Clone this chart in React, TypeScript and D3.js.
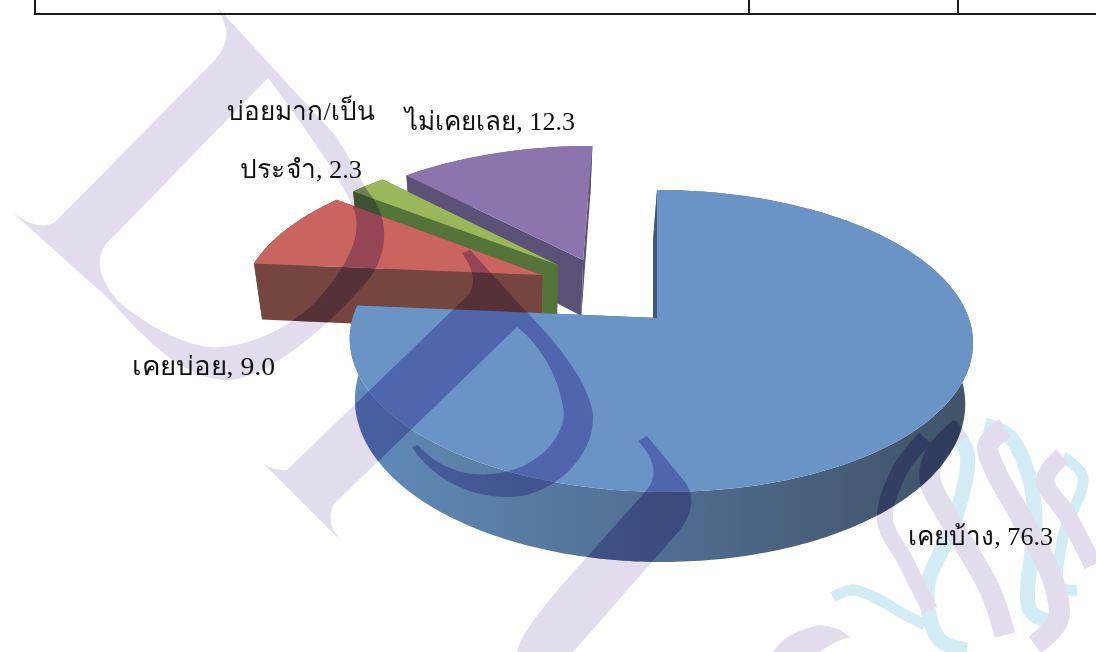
import React from "react";
import * as d3 from "d3";

const categories = ["เคยบ้าง", "เคยบ่อย", "บ่อยมาก/เป็นประจำ", "ไม่เคยเลย"];
const values = [76.3, 9.0, 2.3, 12.3];

const W = 1096, H = 652;
const APEX = { x: 657, y: 318 };
const K = 0.152, A = 147.5, B = 308;
const topCols = ["#6b94c6", "#c9645f", "#9ab85a", "#8c74ad"];
const sideCols = ["#3f5874", "#74463f", "#55743a", "#5c5278"];
const offsets = [[0, 0], [-0.39, 0.305], [-0.34, 0.38], [-0.255, 0.418]];

type P = [number, number];
function project(X: number, Y: number, z = 0): P {
  const d = 1 + K * Y;
  const sx = (B * X) / d;
  const inset = sx < 0 ? 0.03 : 0.012;
  return [
    APEX.x + sx * (1 - inset * z) - 4 * z,
    APEX.y - (A * Y) / d + (59.4 / d) * z,
  ];
}

const pieGen = d3.pie<number>().sort(null).startAngle(0).endAngle(2 * Math.PI);
const arcs = pieGen(values);
const closed = d3.line<P>().curve(d3.curveLinearClosed);

function rim(i: number, z: number): P[] {
  const a = arcs[i];
  const [ox, oy] = offsets[i];
  const n = Math.max(8, Math.round((a.endAngle - a.startAngle) * 60));
  const skew = i === 0 ? 0.012 : 0;
  return d3.range(n + 1).map((k) => {
    const t = a.startAngle + ((a.endAngle - a.startAngle) * k) / n;
    return project(ox + Math.sin(t) + skew * (1 - Math.cos(t)), oy + Math.cos(t), z);
  });
}
function apex(i: number, z: number): P {
  return project(offsets[i][0], offsets[i][1], z);
}
function topFace(i: number) { return closed([apex(i, 0), ...rim(i, 0)]) as string; }
function outerWall(i: number) { return closed([...rim(i, 0), ...rim(i, 1).reverse()]) as string; }
function radial(i: number, end: boolean) {
  const r0 = rim(i, 0), r1 = rim(i, 1);
  const e0 = end ? r0[r0.length - 1] : r0[0];
  const e1 = end ? r1[r1.length - 1] : r1[0];
  return closed([apex(i, 0), e0, e1, apex(i, 1)]) as string;
}

// watermark outlines (background decoration)
const letterD =
  "M218 8 L224 22 Q232 40 215 60 L55 222 Q38 232 13 213 L110 300 C150 345 185 378 225 380 C270 382 345 310 372 275 C390 245 388 215 367 190 C355 170 345 148 333 133 Z " +
  "M268 78 L105 245 Q90 268 117 300 C145 325 190 350 220 347 C260 345 300 320 320 297 C345 268 365 235 353 207 C345 185 300 120 268 78 Z";
const letterP =
  "M462 253 L470 250 L520 305 C560 345 590 385 593 415 C595 455 555 497 507 497 C465 497 430 475 412 447 L418 445 C440 470 470 478 500 473 C545 465 568 430 563 407 C558 375 540 345 517 327 L333 505 Q325 525 343 543 L257 457 Q270 472 287 470 L460 303 Q485 285 462 253 Z";
const letterJ =
  "M638 441 L647 436 L685 482 Q700 503 680 530 L573 652 L517 652 Q520 630 587 557 L645 492 Q665 470 638 441 Z";
const swoosh = "M773 652 Q785 632 820 625 Q838 626 850 637 Q832 642 820 652 Z";

const purpleRibbons: { pts: P[]; w: number }[] = [
  { pts: [[925, 438], [900, 470], [885, 520], [905, 560], [930, 610]], w: 16 },
  { pts: [[960, 428], [935, 455], [930, 480], [950, 520], [990, 590], [1005, 635]], w: 21 },
  { pts: [[1005, 428], [988, 445], [995, 470], [1020, 515], [1053, 580], [1058, 620], [1035, 645]], w: 21 },
  { pts: [[1062, 456], [1045, 480], [1067, 515], [1093, 565]], w: 18 },
];
const cyanRibbons: { pts: P[]; w: number }[] = [
  { pts: [[833, 597], [853, 590], [880, 600], [900, 612], [925, 625]], w: 11 },
  { pts: [[950, 425], [967, 453], [955, 520], [927, 590], [940, 640], [967, 650]], w: 15 },
  { pts: [[985, 425], [1010, 437], [1030, 480], [1035, 520], [1030, 610], [1050, 622]], w: 15 },
  { pts: [[1063, 457], [1083, 477], [1063, 537], [1060, 587], [1077, 590]], w: 11 },
];
const ribbon = d3.line<P>().curve(d3.curveCatmullRom.alpha(0.5));

const labels = [
  { text: "ไม่เคยเลย, 12.3", x: 405, y: 130, w: 170 },
  { text: "บ่อยมาก/เป็น", x: 227, y: 120, w: 148 },
  { text: "ประจำ, 2.3", x: 240, y: 178, w: 122 },
  { text: "เคยบ่อย, 9.0", x: 132, y: 375, w: 143 },
  { text: "เคยบ้าง, 76.3", x: 908, y: 545, w: 145 },
];

function Watermark({ purple, cyan }: { purple: string; cyan: string }) {
  return (
    <g>
      {cyanRibbons.map((r, i) => (
        <path key={i} d={ribbon(r.pts) as string} fill="none" stroke={cyan} strokeWidth={r.w} />
      ))}
      <path d={letterD} fill={purple} fillRule="evenodd" />
      <path d={letterP} fill={purple} />
      <path d={letterJ} fill={purple} />
      <path d={swoosh} fill={purple} />
      {purpleRibbons.map((r, i) => (
        <path key={i} d={ribbon(r.pts) as string} fill="none" stroke={purple} strokeWidth={r.w} />
      ))}
    </g>
  );
}

export default function App() {
  const order = [3, 2, 1, 0];
  return (
    <svg width={W} height={H} viewBox={`0 0 ${W} ${H}`} style={{ position: "absolute", left: 0, top: 0, background: "#fff" }}>
      <defs>
        <linearGradient id="mainWall" gradientUnits="userSpaceOnUse" x1={350} y1={0} x2={975} y2={0}>
          <stop offset="0" stopColor="#5f8cbc" />
          <stop offset="0.2" stopColor="#5b80a8" />
          <stop offset="0.5" stopColor="#506e92" />
          <stop offset="0.8" stopColor="#465c76" />
          <stop offset="1" stopColor="#3f5468" />
        </linearGradient>
        <clipPath id="pieClip">
          {order.map((i) => (
            <React.Fragment key={i}>
              <path d={topFace(i)} />
              <path d={outerWall(i)} />
              <path d={radial(i, false)} />
            </React.Fragment>
          ))}
        </clipPath>
      </defs>
      <rect width={W} height={H} fill="#fff" />
      <Watermark purple="#e3dcec" cyan="#d2ecf6" />
      <g>
        {order.map((i) => (
          <g key={categories[i]}>
            <path d={radial(i, true)} fill={sideCols[i]} />
            <path d={outerWall(i)} fill={i === 0 ? "url(#mainWall)" : sideCols[i]} />
            <path d={radial(i, false)} fill={sideCols[i]} />
            <path d={topFace(i)} fill={topCols[i]} />
          </g>
        ))}
      </g>
      <g clipPath="url(#pieClip)" style={{ mixBlendMode: "multiply" }}>
        <Watermark purple="#bdb0de" cyan="#9cc4d8" />
      </g>
      <g stroke="#1a1a1a" strokeWidth={2}>
        <line x1={35} x2={W} y1={14} y2={14} />
        <line x1={35} x2={35} y1={0} y2={15} />
        <line x1={749} x2={749} y1={0} y2={14} />
        <line x1={958} x2={958} y1={0} y2={14} />
      </g>
      <g fontFamily="'Liberation Serif', 'Noto Sans', serif" fontSize={26} fill="#111">
        {labels.map((l) => (
          <text key={l.text} x={l.x} y={l.y} textLength={l.w} lengthAdjust="spacingAndGlyphs">{l.text}</text>
        ))}
      </g>
    </svg>
  );
}
